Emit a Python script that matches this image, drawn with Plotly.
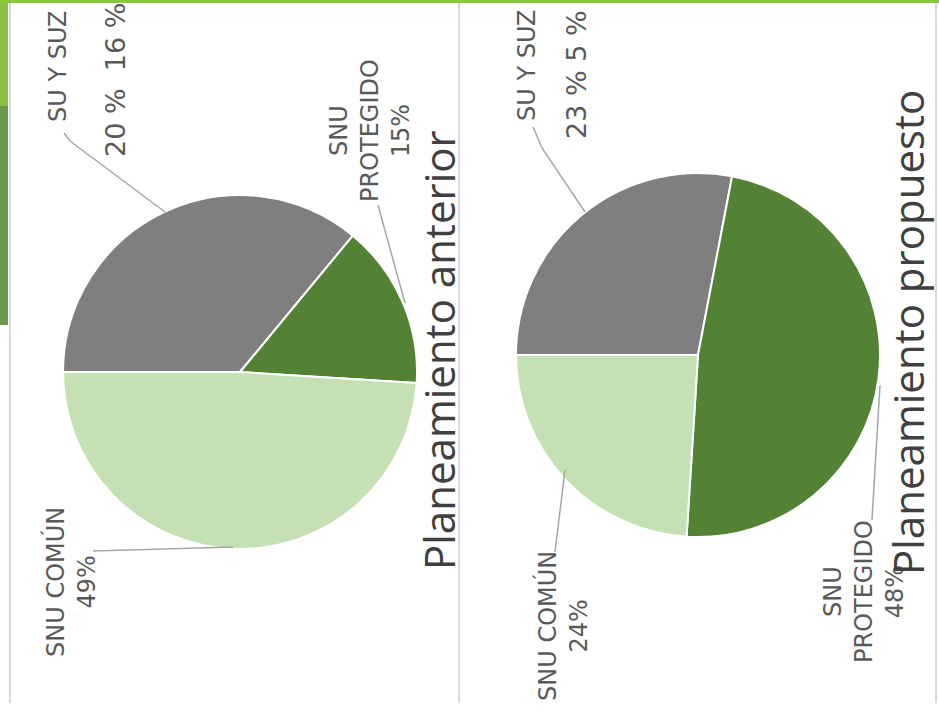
import plotly.graph_objects as go

W, H = 939, 720

# ---- data ----
categories = ["SU Y SUZ", "SNU PROTEGIDO", "SNU COMÚN"]
anterior_values = [36, 15, 49]      # SU y SUZ = 20 % + 16 %
propuesto_values = [28, 48, 24]     # SU y SUZ = 23 % + 5 %
anterior_su_parts = "20 %  16 %"
propuesto_su_parts = "23 % 5 %"
titles = ["Planeamiento anterior", "Planeamiento propuesto"]

colors = ["#7f7f7f", "#548235", "#c5e0b4"]


def px(x):
    return x / W


def py(y):
    return 1 - y / H


def pie_domain(cx, cy, r):
    return dict(x=[px(cx - r), px(cx + r)], y=[py(cy + r), py(cy - r)])


fig = go.Figure()
fig.add_trace(go.Pie(
    labels=categories, values=anterior_values, sort=False,
    direction="clockwise", rotation=270,
    marker=dict(colors=colors, line=dict(color="white", width=2)),
    textinfo="none", hoverinfo="label+percent",
    domain=pie_domain(240, 372, 177), showlegend=False))
fig.add_trace(go.Pie(
    labels=categories, values=propuesto_values, sort=False,
    direction="clockwise", rotation=270,
    marker=dict(colors=colors, line=dict(color="white", width=2)),
    textinfo="none", hoverinfo="label+percent",
    domain=pie_domain(698, 355, 182), showlegend=False))

lab_font = dict(family="DejaVu Sans", size=24, color="#595959")
pct_font = dict(family="DejaVu Sans", size=27, color="#595959")
title_font = dict(family="Open Sans", size=42, color="#404040")


def pct(v):
    return f"{v}%"


ann = []


def add(text, x, y, font):
    ann.append(dict(text=text, x=px(x), y=py(y), xref="paper", yref="paper",
                    xanchor="center", yanchor="middle", showarrow=False,
                    textangle=-90, font=font, align="center"))


# left pie labels
add(categories[0], 58, 66, lab_font)
add(anterior_su_parts, 115, 80, pct_font)
add("SNU<br>PROTEGIDO<br>" + pct(anterior_values[1]), 370, 131, lab_font)
add("SNU COMÚN<br>" + pct(anterior_values[2]), 70, 582, lab_font)
add(titles[0], 438, 350, title_font)
# right pie labels
add(categories[0], 527, 65, lab_font)
add(propuesto_su_parts, 577, 75, pct_font)
add("SNU COMÚN<br>" + pct(propuesto_values[2]), 562, 626, lab_font)
add("SNU<br>PROTEGIDO<br>" + pct(propuesto_values[1]), 864, 592, lab_font)
add(titles[1], 907, 333, title_font)


def path(points):
    s = "M " + " L ".join(f"{px(x)},{py(y)}" for x, y in points)
    return s


shapes = []
leader = dict(color="#a6a6a6", width=1.5)
for pts in [
    [(64, 133), (70, 141), (165, 212)],
    [(378, 205), (405, 303)],
    [(93, 551), (233, 547)],
    [(533, 127), (542, 148), (585, 212)],
    [(555, 552), (565, 470)],
    [(872, 520), (880, 385)],
]:
    shapes.append(dict(type="path", path=path(pts), xref="paper", yref="paper",
                       line=leader, layer="above"))

# decorative frame / slide background
frame = dict(color="#d9d9d9", width=2)
for x0, y0, x1, y1 in [(10, 3, 10, 703), (459, 3, 459, 703), (936, 3, 936, 703)]:
    shapes.append(dict(type="line", x0=px(x0), y0=py(y0), x1=px(x1), y1=py(y1),
                       xref="paper", yref="paper", line=frame, layer="below"))
shapes.append(dict(type="rect", x0=0, x1=px(8), y0=py(106), y1=1, xref="paper",
                   yref="paper", fillcolor="#8cbf3f", line=dict(width=0), layer="below"))
shapes.append(dict(type="rect", x0=0, x1=px(8), y0=py(325), y1=py(106), xref="paper",
                   yref="paper", fillcolor="#6a9a50", line=dict(width=0), layer="below"))
shapes.append(dict(type="rect", x0=0, x1=1, y0=py(3), y1=1, xref="paper",
                   yref="paper", fillcolor="#8cc63f", line=dict(width=0), layer="below"))

fig.update_layout(
    width=W, height=H, margin=dict(l=0, r=0, t=0, b=0),
    paper_bgcolor="white", plot_bgcolor="white",
    annotations=ann, shapes=shapes, showlegend=False,
)

fig.write_html("out.html", config={"displayModeBar": False},
               post_script="document.body.style.margin='0';document.body.style.overflow='hidden';")
